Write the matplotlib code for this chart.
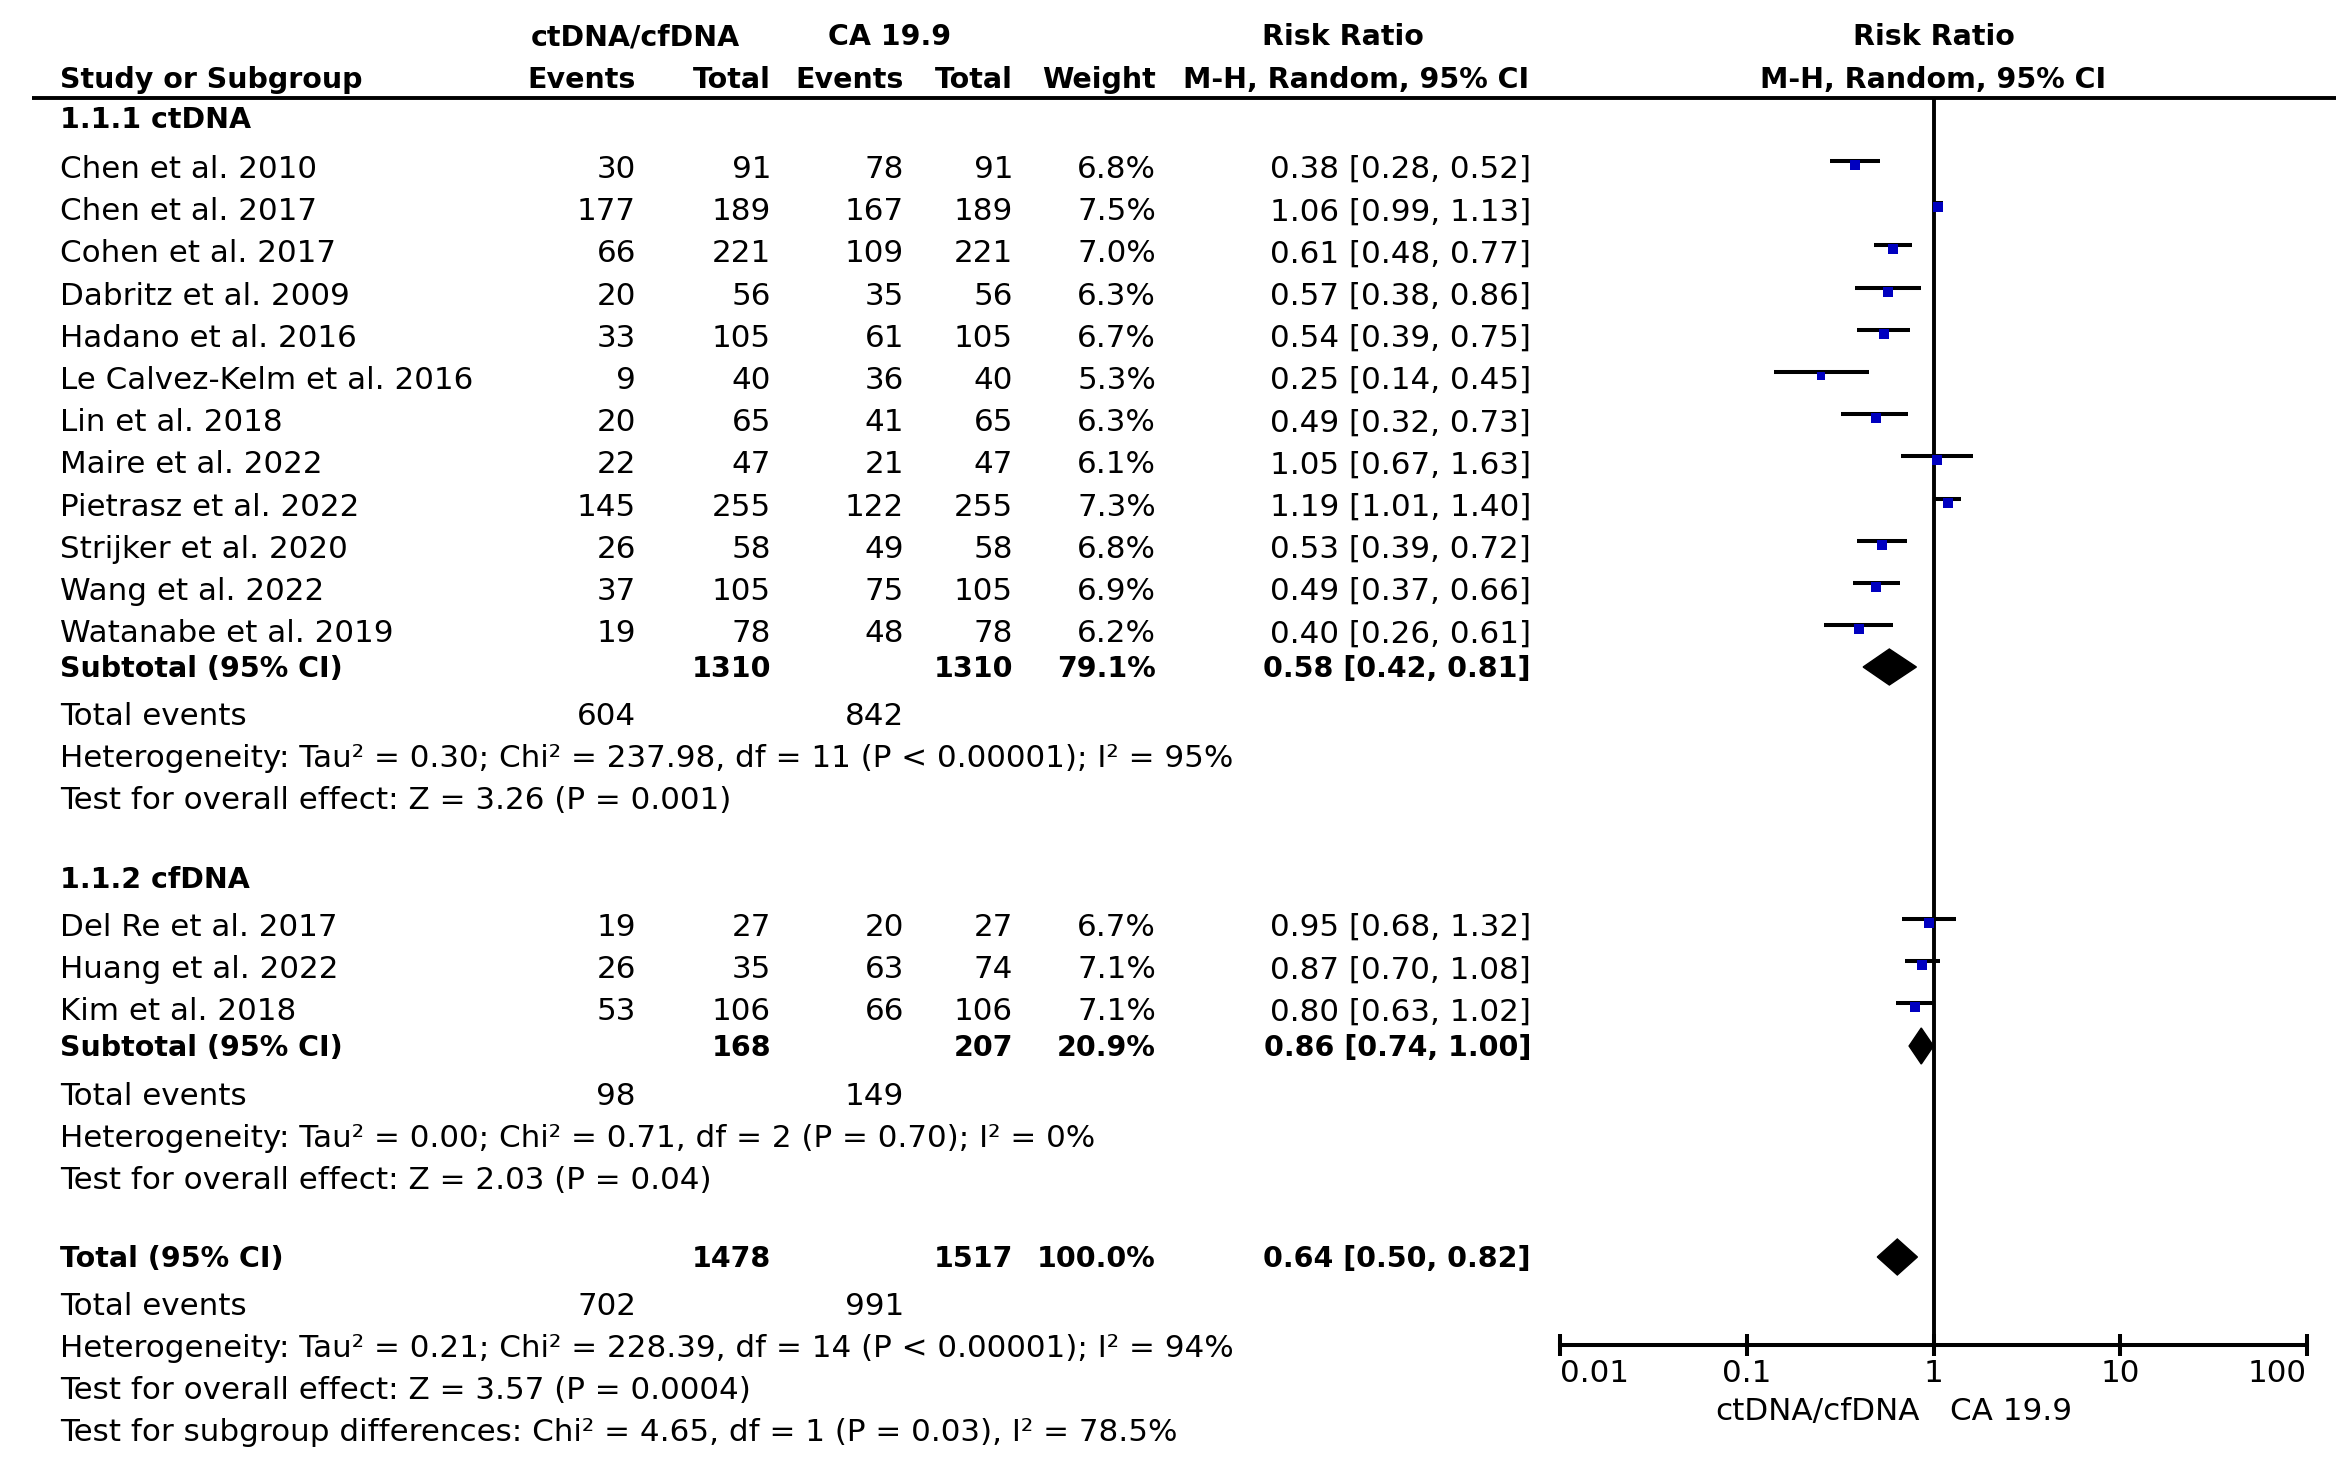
import numpy as np
import matplotlib.pyplot as plt
from matplotlib.patches import Polygon
from matplotlib.ticker import NullLocator
from matplotlib.transforms import blended_transform_factory

plt.rcParams['font.family'] = ['DejaVu Sans']
FS = 22.3    # regular text
FS_B = 20.5  # bold text
BLUE = '#0000c0'

# ---- data ----
ct_names = ['Chen et al. 2010', 'Chen et al. 2017', 'Cohen et al. 2017', 'Dabritz et al. 2009',
            'Hadano et al. 2016', 'Le Calvez-Kelm et al. 2016', 'Lin et al. 2018', 'Maire et al. 2022',
            'Pietrasz et al. 2022', 'Strijker et al. 2020', 'Wang et al. 2022', 'Watanabe et al. 2019']
ct_ev_exp = [30, 177, 66, 20, 33, 9, 20, 22, 145, 26, 37, 19]
ct_tot_exp = [91, 189, 221, 56, 105, 40, 65, 47, 255, 58, 105, 78]
ct_ev_ctl = [78, 167, 109, 35, 61, 36, 41, 21, 122, 49, 75, 48]
ct_tot_ctl = [91, 189, 221, 56, 105, 40, 65, 47, 255, 58, 105, 78]
ct_weight = [6.8, 7.5, 7.0, 6.3, 6.7, 5.3, 6.3, 6.1, 7.3, 6.8, 6.9, 6.2]
ct_rr = [0.38, 1.06, 0.61, 0.57, 0.54, 0.25, 0.49, 1.05, 1.19, 0.53, 0.49, 0.40]
ct_lo = [0.28, 0.99, 0.48, 0.38, 0.39, 0.14, 0.32, 0.67, 1.01, 0.39, 0.37, 0.26]
ct_hi = [0.52, 1.13, 0.77, 0.86, 0.75, 0.45, 0.73, 1.63, 1.40, 0.72, 0.66, 0.61]

cf_names = ['Del Re et al. 2017', 'Huang et al. 2022', 'Kim et al. 2018']
cf_ev_exp = [19, 26, 53]
cf_tot_exp = [27, 35, 106]
cf_ev_ctl = [20, 63, 66]
cf_tot_ctl = [27, 74, 106]
cf_weight = [6.7, 7.1, 7.1]
cf_rr = [0.95, 0.87, 0.80]
cf_lo = [0.68, 0.70, 0.63]
cf_hi = [1.32, 1.08, 1.02]

# subtotal / total: exp total, ctl total, weight, rr, lo, hi, events exp, events ctl
sub_ct = [1310, 1310, 79.1, 0.58, 0.42, 0.81, 604, 842]
sub_cf = [168, 207, 20.9, 0.86, 0.74, 1.00, 98, 149]
overall = [1478, 1517, 100.0, 0.64, 0.50, 0.82, 702, 991]

het_ct = 'Heterogeneity: Tau² = 0.30; Chi² = 237.98, df = 11 (P < 0.00001); I² = 95%'
eff_ct = 'Test for overall effect: Z = 3.26 (P = 0.001)'
het_cf = 'Heterogeneity: Tau² = 0.00; Chi² = 0.71, df = 2 (P = 0.70); I² = 0%'
eff_cf = 'Test for overall effect: Z = 2.03 (P = 0.04)'
het_all = 'Heterogeneity: Tau² = 0.21; Chi² = 228.39, df = 14 (P < 0.00001); I² = 94%'
eff_all = 'Test for overall effect: Z = 3.57 (P = 0.0004)'
sub_diff = 'Test for subgroup differences: Chi² = 4.65, df = 1 (P = 0.03), I² = 78.5%'

ticks = [0.01, 0.1, 1, 10, 100]
tick_labels = ['0.01', '0.1', '1', '10', '100']

# ---- layout (pixels) ----
W, H = 2336, 1480
X_NAME, X_EV1, X_TOT1, X_EV2, X_TOT2, X_W, X_RR = 60, 636, 771, 904, 1013, 1156, 1531
AX_L, AX_R, AX_T, AX_B = 1560, 2307, 98, 1345
ROW = 42.2

fig = plt.figure(figsize=(W / 100, H / 100), dpi=100)
tx = fig.add_axes([0, 0, 1, 1])
tx.set_xlim(0, W)
tx.set_ylim(H, 0)
tx.axis('off')

fp = fig.add_axes([AX_L / W, 1 - AX_B / H, (AX_R - AX_L) / W, (AX_B - AX_T) / H])
fp.set_xscale('log')
fp.set_xlim(0.01, 100)
fp.set_ylim(AX_B, AX_T)
fp.patch.set_alpha(0)
for s in ['top', 'left', 'right']:
    fp.spines[s].set_visible(False)
fp.spines['bottom'].set_linewidth(2.9)
fp.set_yticks([])
fp.set_xticks(ticks)
fp.set_xticklabels(tick_labels)
fp.xaxis.set_minor_locator(NullLocator())
fp.tick_params(axis='x', direction='inout', length=16, width=2.9, labelsize=FS, pad=2)
for lab, ha in zip(fp.get_xticklabels(), ['left', 'center', 'center', 'center', 'right']):
    lab.set_ha(ha)
fp.axvline(1, color='k', lw=2.8)

mixed = blended_transform_factory(fp.transData, tx.transData)


def txt(x, y, s, ha='left', bold=False, **kw):
    tx.text(x, y, s, ha=ha, va='baseline', fontsize=FS_B if bold else FS,
            fontweight='bold' if bold else 'normal', **kw)


# header
txt(635, 45, 'ctDNA/cfDNA', ha='center', bold=True)
txt(890, 45, 'CA 19.9', ha='center', bold=True)
txt(1343, 45, 'Risk Ratio', ha='center', bold=True)
txt(X_NAME, 88, 'Study or Subgroup', bold=True)
txt(X_EV1, 88, 'Events', ha='right', bold=True)
txt(X_TOT1, 88, 'Total', ha='right', bold=True)
txt(X_EV2, 88, 'Events', ha='right', bold=True)
txt(X_TOT2, 88, 'Total', ha='right', bold=True)
txt(X_W, 88, 'Weight', ha='right', bold=True)
txt(1529, 88, 'M-H, Random, 95% CI', ha='right', bold=True)
tx.text(1, 45, 'Risk Ratio', transform=mixed, ha='center', va='baseline', fontsize=FS_B, fontweight='bold')
tx.text(1, 88, 'M-H, Random, 95% CI', transform=mixed, ha='center', va='baseline', fontsize=FS_B, fontweight='bold')
tx.plot([32, W], [98, 98], color='k', lw=2.8, solid_capstyle='butt')


def study_rows(y0, names, ev1, t1, ev2, t2, wt, rr, lo, hi):
    for i in range(len(names)):
        y = y0 + ROW * i
        txt(X_NAME, y, names[i])
        txt(X_EV1, y, str(ev1[i]), ha='right')
        txt(X_TOT1, y, str(t1[i]), ha='right')
        txt(X_EV2, y, str(ev2[i]), ha='right')
        txt(X_TOT2, y, str(t2[i]), ha='right')
        txt(X_W, y, f'{wt[i]:.1f}%', ha='right')
        txt(X_RR, y, f'{rr[i]:.2f} [{lo[i]:.2f}, {hi[i]:.2f}]', ha='right')
        yl = y - 17
        fp.plot([lo[i], hi[i]], [yl, yl], color='k', lw=2.9, solid_capstyle='butt')
        fp.plot(rr[i], yl + 4, marker='s', ms=7.0 * np.sqrt(wt[i] / 6.7),
                color=BLUE, mec=BLUE, mew=0)


def summary_row(y, label, vals):
    txt(X_NAME, y, label, bold=True)
    txt(X_TOT1, y, str(vals[0]), ha='right', bold=True)
    txt(X_TOT2, y, str(vals[1]), ha='right', bold=True)
    txt(X_W, y, f'{vals[2]:.1f}%', ha='right', bold=True)
    txt(X_RR, y, f'{vals[3]:.2f} [{vals[4]:.2f}, {vals[5]:.2f}]', ha='right', bold=True)
    yc = y - 10
    fp.add_patch(Polygon([(vals[4], yc), (vals[3], yc - 18), (vals[5], yc), (vals[3], yc + 18)],
                         closed=True, color='k'))


def events_row(y, vals):
    txt(X_NAME, y, 'Total events')
    txt(X_EV1, y, str(vals[6]), ha='right')
    txt(X_EV2, y, str(vals[7]), ha='right')


# subgroup 1
txt(X_NAME, 128, '1.1.1 ctDNA', bold=True)
study_rows(178, ct_names, ct_ev_exp, ct_tot_exp, ct_ev_ctl, ct_tot_ctl, ct_weight, ct_rr, ct_lo, ct_hi)
summary_row(677, 'Subtotal (95% CI)', sub_ct)
events_row(725, sub_ct)
txt(X_NAME, 767, het_ct)
txt(X_NAME, 809, eff_ct)

# subgroup 2
txt(X_NAME, 888, '1.1.2 cfDNA', bold=True)
study_rows(936, cf_names, cf_ev_exp, cf_tot_exp, cf_ev_ctl, cf_tot_ctl, cf_weight, cf_rr, cf_lo, cf_hi)
summary_row(1056, 'Subtotal (95% CI)', sub_cf)
events_row(1105, sub_cf)
txt(X_NAME, 1147, het_cf)
txt(X_NAME, 1189, eff_cf)

# overall
summary_row(1267, 'Total (95% CI)', overall)
events_row(1315, overall)
txt(X_NAME, 1357, het_all)
txt(X_NAME, 1399, eff_all)
txt(X_NAME, 1441, sub_diff)

# favours labels
txt(1920, 1420, 'ctDNA/cfDNA', ha='right')
txt(1950, 1420, 'CA 19.9')

fig.savefig('out.png', dpi=100)
